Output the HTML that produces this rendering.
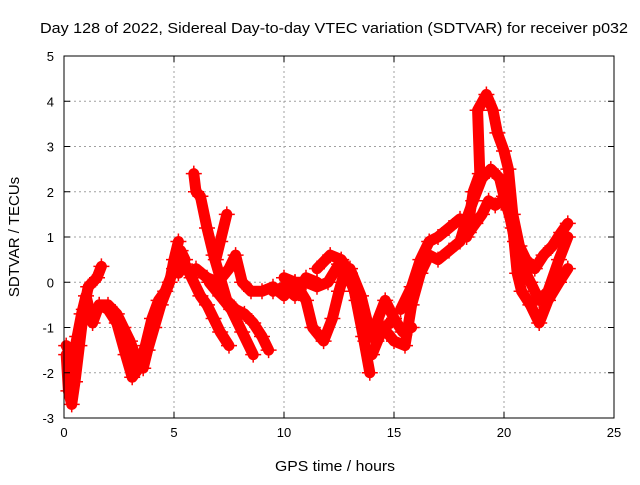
<!DOCTYPE html>
<html><head><meta charset="utf-8"><style>
body{margin:0;background:#fff}
svg text{font-family:"Liberation Sans",sans-serif;fill:#000}
</style></head><body>
<svg id="c" width="640" height="480" xmlns="http://www.w3.org/2000/svg">
<rect width="640" height="480" fill="#fff"/>
<g id="grid"></g><g id="marks"></g><g id="axes"></g>
<text x="40" y="33" font-size="15" textLength="588" lengthAdjust="spacingAndGlyphs">Day 128 of 2022, Sidereal Day-to-day VTEC variation (SDTVAR) for receiver p032</text>
<text x="275" y="471" font-size="15" textLength="120" lengthAdjust="spacingAndGlyphs">GPS time / hours</text>
<text x="19" y="237" font-size="15" text-anchor="middle" transform="rotate(-90 19 237)">SDTVAR / TECUs</text>
</svg>
<script>
const xTicks=[0,5,10,15,20,25];
const yTicks=[-3,-2,-1,0,1,2,3,4,5];
const s1=[[0.1,-1.6],[0.2,-2.4],[0.35,-2.7],[0.5,-2.2],[0.7,-1.4],[0.9,-0.6],[1.1,-0.1],[1.3,0.0],[1.5,0.1],[1.7,0.35]];
const s2=[[0.1,-1.4],[0.4,-1.7],[0.6,-1.2],[0.8,-0.7],[1.0,-0.3],[1.3,-0.9],[1.6,-0.5],[2.0,-0.6],[2.4,-0.9],[2.8,-1.6],[3.1,-2.1],[3.4,-1.9],[3.7,-1.4],[4.0,-0.8],[4.3,-0.4],[4.6,-0.2],[5.0,0.3],[5.3,0.7],[5.5,0.5]];
const s3=[[1.6,-0.5],[2.0,-0.5],[2.4,-0.7],[2.7,-1.0],[3.0,-1.3],[3.3,-1.7],[3.6,-1.9],[3.8,-1.5],[4.1,-1.0],[4.4,-0.5],[4.8,0.0],[5.0,0.5],[5.2,0.9]];
const s4=[[5.2,0.2],[5.5,0.4],[5.8,0.1],[6.2,-0.3],[6.5,-0.5],[6.8,-0.8],[7.1,-1.1],[7.5,-1.4]];
const s5=[[5.9,2.4],[6.0,2.0],[6.2,1.9],[6.5,1.2],[6.8,0.6],[7.1,0.1],[7.4,-0.4],[7.8,-0.6],[8.2,-0.7],[8.6,-0.9],[9.0,-1.2],[9.3,-1.5]];
const s6=[[6.6,0.0],[7.1,-0.3],[7.6,-0.6],[8.1,-1.1],[8.6,-1.6]];
const s7=[[6.9,0.5],[7.1,0.9],[7.4,1.5]];
const s8=[[6.0,0.3],[6.5,0.1],[7.0,0.0],[7.5,0.3],[7.8,0.6],[8.1,0.0],[8.5,-0.2],[9.0,-0.2],[9.5,-0.1],[10.0,-0.3],[10.5,0.0],[11.0,0.0],[11.5,-0.1],[12.0,0.0],[12.5,0.4],[13.0,0.3],[13.5,-0.3],[13.8,-0.9],[14.2,-1.3],[14.6,-1.0],[15.0,-0.8]];
const s9=[[10.0,0.1],[10.5,0.0],[11.0,-0.4],[11.3,-1.0],[11.8,-1.3],[12.2,-0.8],[12.5,-0.2],[12.8,0.3],[13.2,-0.2],[13.6,-1.2],[13.9,-2.0]];
const s10=[[11.5,0.3],[12.1,0.6],[12.6,0.5],[13.0,0.2],[13.3,-0.4],[13.7,-1.3],[14.2,-0.9],[14.6,-0.4],[15.0,-0.8],[15.4,-1.1],[15.8,-1.0]];
const s11=[[14.0,-1.6],[14.5,-1.0],[15.0,-1.3],[15.5,-1.4],[15.8,-0.5],[16.2,0.2],[16.6,0.6],[17.0,0.5],[17.5,0.7],[18.0,0.9],[18.3,1.4],[18.6,1.8],[19.0,2.3],[19.4,2.5],[19.8,2.3],[20.0,1.9],[20.4,1.2],[20.6,0.2],[20.8,-0.2],[21.2,-0.5],[21.6,-0.9],[22.0,-0.4],[22.5,0.0],[22.9,0.3]];
const s12=[[15.3,-0.6],[15.8,-0.1],[16.2,0.5],[16.6,0.9],[17.0,1.0],[17.5,1.2],[18.0,1.4],[18.4,1.1],[18.7,1.3],[19.0,1.5],[19.3,1.8],[19.6,1.7],[19.9,1.8],[20.2,1.6],[20.5,0.9],[20.8,0.4],[21.2,0.0],[21.6,-0.4],[22.0,-0.2],[22.5,0.5],[22.9,1.0]];
const s13=[[18.3,1.0],[18.6,2.0],[18.9,2.4],[18.8,3.8],[19.2,4.15],[19.5,3.8],[19.7,3.3],[20.0,2.9],[20.2,2.5],[20.4,1.5],[20.7,0.8],[21.0,0.5],[21.4,0.3],[21.8,0.6],[22.2,0.8],[22.6,1.1],[22.9,1.3]];
const s14=[[9.5,-0.2],[10.0,-0.1],[10.5,-0.3],[11.0,0.1],[11.5,0.0]];
const seriesList=[s1,s2,s3,s4,s5,s6,s7,s8,s9,s10,s11,s12,s13,s14];
const X0=64,X1=614,Y0=418,Y1=56;
function sx(h){return X0+(h-0)/(25-0)*(X1-X0);}
function sy(v){return Y0-(v+3)/(5+3)*(Y0-Y1);}
const NS="http://www.w3.org/2000/svg";
function mk(t,a,p){const e=document.createElementNS(NS,t);for(const k in a)e.setAttribute(k,a[k]);p.appendChild(e);return e;}
const grid=document.getElementById('grid'),axes=document.getElementById('axes'),marks=document.getElementById('marks');
xTicks.forEach(t=>{const x=sx(t);
 if(t>0&&t<25){const g=mk('line',{x1:x,x2:x,y1:Y1,y2:Y0,stroke:'#a0a0a0','stroke-dasharray':'2,3'},grid);
 
 }
 mk('line',{x1:x,x2:x,y1:Y0,y2:Y0-6,stroke:'#000'},axes);mk('line',{x1:x,x2:x,y1:Y1,y2:Y1+6,stroke:'#000'},axes);
 const l=mk('text',{x:x,y:Y0+19,'font-size':13,'text-anchor':'middle'},axes);l.textContent=t;
 
 });
yTicks.forEach(t=>{const y=sy(t);
 if(t>-3&&t<5){const g=mk('line',{x1:X0,x2:X1,y1:y,y2:y,stroke:'#a0a0a0','stroke-dasharray':'2,3'},grid);
 
 }
 mk('line',{x1:X0,x2:X0+6,y1:y,y2:y,stroke:'#000'},axes);mk('line',{x1:X1,x2:X1-6,y1:y,y2:y,stroke:'#000'},axes);
 const l=mk('text',{x:X0-10,y:y+5,'font-size':13,'text-anchor':'end'},axes);l.textContent=t;
 
 });
const fr=mk('rect',{x:X0,y:Y1,width:X1-X0,height:Y0-Y1,fill:'none',stroke:'#000'},axes);


seriesList.forEach((s,i)=>{
 const pl=mk('polyline',{points:s.map(p=>sx(p[0])+','+sy(p[1])).join(' '),fill:'none',stroke:'#ff0000','stroke-width':11,'stroke-linejoin':'round','stroke-linecap':'round'},marks);
 
 
 s.forEach(p=>{const x=sx(p[0]),y=sy(p[1]);
  const m=mk('path',{d:`M${x-8},${y}H${x+8}M${x},${y-8}V${y+8}`,stroke:'#ff0000','stroke-width':1.5},marks);
  
  });
});
</script>
</body></html>
